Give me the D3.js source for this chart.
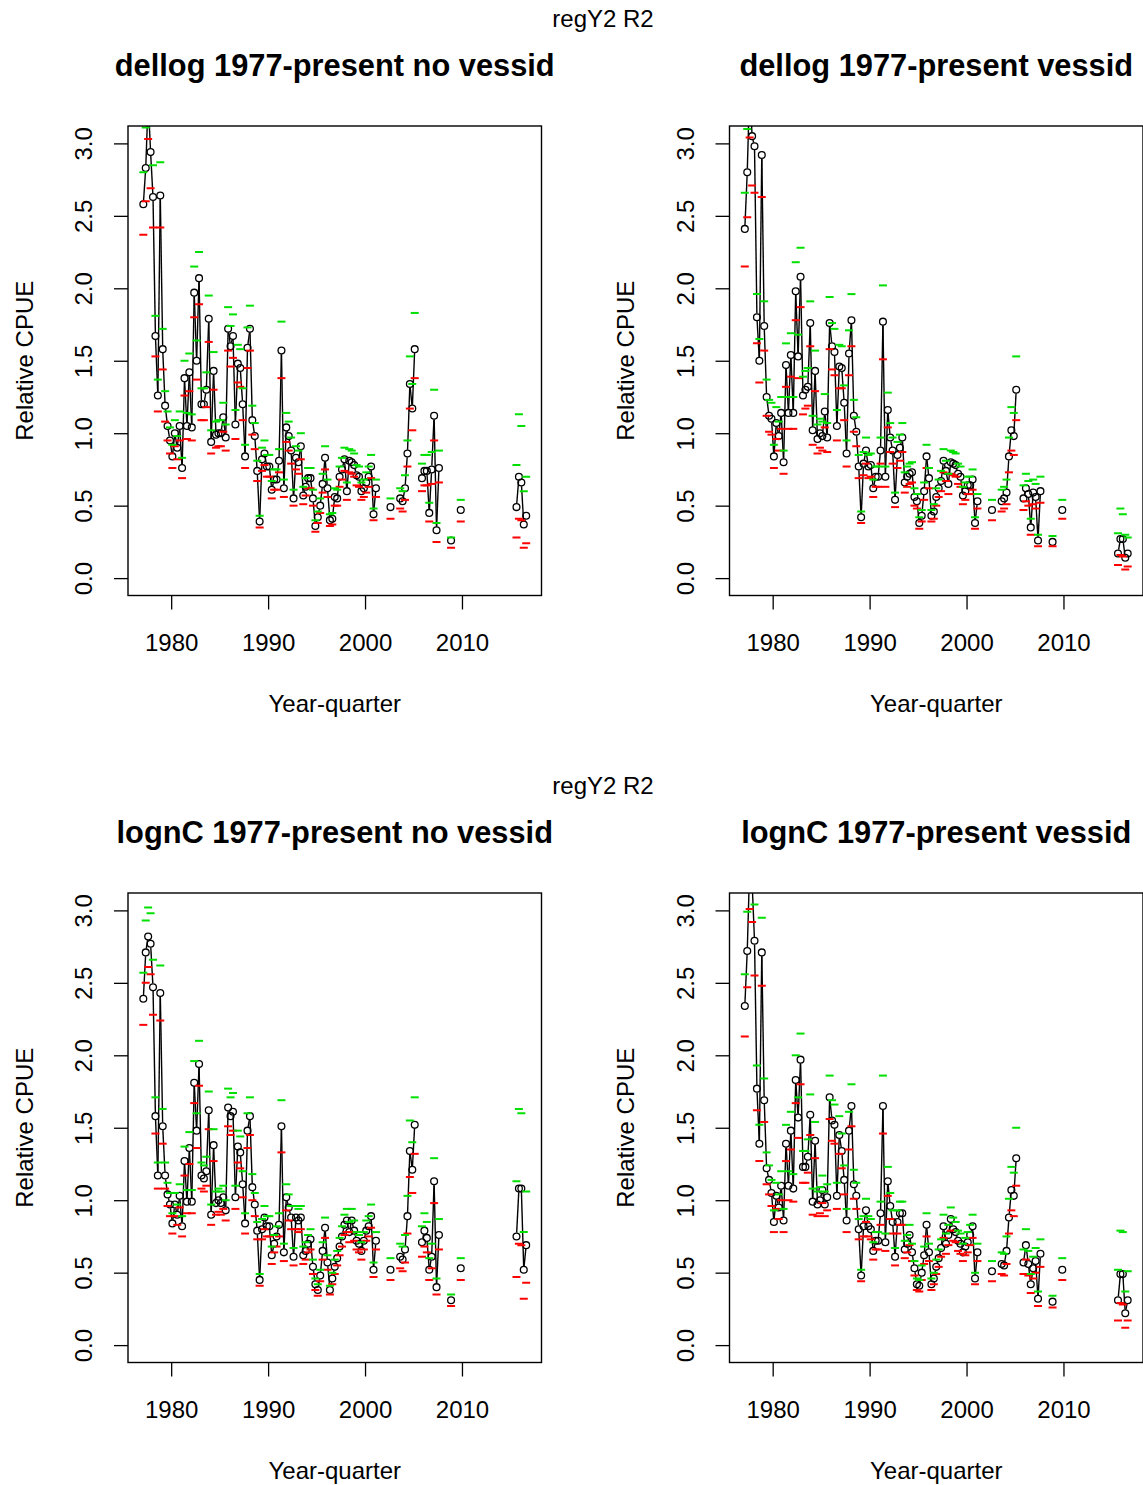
<!DOCTYPE html>
<html>
<head>
<meta charset="utf-8">
<script src="https://cdn.jsdelivr.net/npm/d3@7"></script>
<style>
  body { margin: 0; background: #fff; }
  svg text { font-family: "Liberation Sans", Arial, sans-serif; fill: #000; }
</style>
</head>
<body>
<svg id="chart" width="1143" height="1485"></svg>
<script>
// year-quarter of every estimate (quarters without data are left out)
const yq = [
  1977.125, 1977.375, 1977.625, 1977.875, 1978.125, 1978.375, 1978.625, 1978.875,
  1979.125, 1979.375, 1979.625, 1979.875, 1980.125, 1980.375, 1980.625, 1980.875,
  1981.125, 1981.375, 1981.625, 1981.875, 1982.125, 1982.375, 1982.625, 1982.875,
  1983.125, 1983.375, 1983.625, 1983.875, 1984.125, 1984.375, 1984.625, 1984.875,
  1985.125, 1985.375, 1985.625, 1985.875, 1986.125, 1986.375, 1986.625, 1986.875,
  1987.125, 1987.375, 1987.625, 1987.875, 1988.125, 1988.375, 1988.625, 1988.875,
  1989.125, 1989.375, 1989.625, 1989.875, 1990.125, 1990.375, 1990.625, 1990.875,
  1991.125, 1991.375, 1991.625, 1991.875, 1992.125, 1992.375, 1992.625, 1992.875,
  1993.125, 1993.375, 1993.625, 1993.875, 1994.125, 1994.375, 1994.625, 1994.875,
  1995.125, 1995.375, 1995.625, 1995.875, 1996.125, 1996.375, 1996.625, 1996.875,
  1997.125, 1997.375, 1997.625, 1997.875, 1998.125, 1998.375, 1998.625, 1998.875,
  1999.125, 1999.375, 1999.625, 1999.875, 2000.125, 2000.375, 2000.625, 2000.875,
  2001.125,
  2002.625,
  2003.625, 2003.875, 2004.125, 2004.375, 2004.625, 2004.875, 2005.125,
  2005.875, 2006.125, 2006.375, 2006.625, 2006.875, 2007.125, 2007.375, 2007.625,
  2008.875, 2009.875,
  2015.625, 2015.875, 2016.125, 2016.375, 2016.625
];

// dellog 1977-present no vessid
const dellogNoVess = [
  2.58, 2.83, 3.30, 2.94, 2.63, 1.67, 1.26, 2.64, 1.58, 1.19,
  1.05, 0.95, 0.84, 1.00, 0.90, 1.05, 0.76, 1.38, 1.05, 1.42,
  1.04, 1.97, 1.50, 2.07, 1.20, 1.20, 1.30, 1.79, 0.94, 1.43,
  0.99, 1.00, 1.00, 1.11, 0.97, 1.72, 1.60, 1.67, 1.06, 1.48,
  1.45, 1.20, 0.84, 1.59, 1.72, 1.09, 0.98, 0.74, 0.39, 0.82,
  0.86, 0.77, 0.77, 0.61, 0.68, 0.68, 0.81, 1.57, 0.62, 1.04,
  0.98, 0.88, 0.55, 0.83, 0.80, 0.91, 0.57, 0.63, 0.69, 0.69,
  0.55, 0.36, 0.42, 0.50, 0.65, 0.83, 0.62, 0.40, 0.41, 0.56,
  0.55, 0.70, 0.75, 0.82, 0.60, 0.81, 0.80, 0.78, 0.71, 0.70,
  0.60, 0.62, 0.66, 0.70, 0.77, 0.44, 0.62,
  0.49,
  0.55, 0.53, 0.62, 0.86, 1.34, 1.17, 1.58,
  0.69, 0.74, 0.74, 0.45, 0.75, 1.12, 0.33, 0.76,
  0.26, 0.47,
  0.49, 0.70, 0.66, 0.37, 0.43
];
const dellogNoVessLo = [
  2.37, 2.60, 3.03, 2.69, 2.42, 1.53, 1.15, 2.42, 1.44, 1.08,
  0.95, 0.86, 0.76, 0.91, 0.82, 0.95, 0.69, 1.26, 0.96, 1.29,
  0.95, 1.80, 1.37, 1.89, 1.09, 1.09, 1.18, 1.63, 0.86, 1.30,
  0.90, 0.91, 0.91, 1.01, 0.88, 1.57, 1.46, 1.52, 0.96, 1.35,
  1.32, 1.09, 0.76, 1.45, 1.57, 0.99, 0.89, 0.67, 0.35, 0.74,
  0.78, 0.70, 0.70, 0.55, 0.61, 0.61, 0.73, 1.38, 0.56, 0.94,
  0.88, 0.79, 0.50, 0.75, 0.72, 0.82, 0.51, 0.57, 0.62, 0.62,
  0.50, 0.32, 0.38, 0.45, 0.59, 0.75, 0.56, 0.36, 0.37, 0.50,
  0.50, 0.63, 0.68, 0.74, 0.54, 0.73, 0.72, 0.70, 0.64, 0.63,
  0.54, 0.56, 0.59, 0.63, 0.69, 0.40, 0.56,
  0.41,
  0.48, 0.46, 0.54, 0.77, 1.17, 1.02, 1.38,
  0.60, 0.64, 0.64, 0.39, 0.65, 0.95, 0.25, 0.66,
  0.21, 0.39,
  0.28, 0.41, 0.40, 0.21, 0.24
];
const dellogNoVessHi = [
  2.80, 3.11, 3.60, 3.21, 2.85, 1.81, 1.37, 2.87, 1.72, 1.29,
  1.15, 1.04, 0.92, 1.09, 0.98, 1.15, 0.83, 1.50, 1.14, 1.55,
  1.13, 2.15, 1.64, 2.25, 1.31, 1.31, 1.42, 1.95, 1.02, 1.56,
  1.08, 1.09, 1.09, 1.21, 1.06, 1.87, 1.74, 1.82, 1.16, 1.61,
  1.58, 1.31, 0.92, 1.73, 1.88, 1.19, 1.07, 0.81, 0.43, 0.90,
  0.95, 0.85, 0.85, 0.67, 0.75, 0.75, 0.89, 1.77, 0.68, 1.14,
  1.08, 0.97, 0.61, 0.91, 0.88, 1.00, 0.63, 0.69, 0.76, 0.76,
  0.61, 0.40, 0.46, 0.55, 0.72, 0.91, 0.68, 0.44, 0.45, 0.62,
  0.61, 0.77, 0.83, 0.90, 0.66, 0.89, 0.88, 0.86, 0.78, 0.77,
  0.66, 0.68, 0.73, 0.77, 0.85, 0.48, 0.68,
  0.55,
  0.62, 0.60, 0.71, 0.95, 1.53, 1.34, 1.83,
  0.79, 0.85, 0.85, 0.52, 0.87, 1.30, 0.38, 0.88,
  0.28, 0.54,
  0.78, 1.13, 1.05, 0.60, 0.70
];

// dellog 1977-present vessid
const dellogVess = [
  2.41, 2.80, 3.40, 3.05, 2.98, 1.80, 1.50, 2.92, 1.74, 1.25,
  1.12, 1.10, 0.84, 1.07, 0.98, 1.14, 0.80, 1.47, 1.14, 1.54,
  1.14, 1.98, 1.53, 2.08, 1.26, 1.30, 1.32, 1.76, 1.02, 1.43,
  0.96, 1.00, 0.98, 1.15, 0.97, 1.76, 1.60, 1.56, 1.05, 1.46,
  1.45, 1.21, 0.86, 1.55, 1.78, 1.12, 1.01, 0.77, 0.42, 0.79,
  0.88, 0.77, 0.78, 0.62, 0.70, 0.70, 0.88, 1.77, 0.70, 1.16,
  0.97, 0.88, 0.54, 0.85, 0.90, 0.97, 0.66, 0.70, 0.72, 0.73,
  0.56, 0.53, 0.38, 0.43, 0.60, 0.84, 0.69, 0.43, 0.46, 0.56,
  0.62, 0.67, 0.81, 0.74, 0.65, 0.80, 0.79, 0.78, 0.72, 0.70,
  0.57, 0.60, 0.64, 0.64, 0.68, 0.38, 0.53,
  0.47,
  0.53, 0.55, 0.59, 0.84, 1.02, 0.98, 1.30,
  0.55, 0.62, 0.58, 0.35, 0.59, 0.56, 0.26, 0.60,
  0.25, 0.47,
  0.17, 0.27, 0.27, 0.14, 0.17
];
const dellogVessLo = [
  2.15, 2.49, 3.04, 2.71, 2.66, 1.62, 1.35, 2.63, 1.57, 1.12,
  1.01, 0.99, 0.76, 0.96, 0.88, 1.03, 0.72, 1.32, 1.03, 1.39,
  1.03, 1.78, 1.38, 1.87, 1.13, 1.17, 1.19, 1.60, 0.92, 1.29,
  0.86, 0.90, 0.88, 1.04, 0.87, 1.58, 1.44, 1.40, 0.95, 1.31,
  1.31, 1.09, 0.77, 1.40, 1.60, 1.01, 0.91, 0.69, 0.38, 0.71,
  0.79, 0.69, 0.70, 0.56, 0.63, 0.63, 0.79, 1.51, 0.63, 1.04,
  0.87, 0.79, 0.49, 0.76, 0.81, 0.87, 0.59, 0.63, 0.65, 0.66,
  0.50, 0.48, 0.34, 0.39, 0.54, 0.76, 0.62, 0.39, 0.41, 0.50,
  0.56, 0.60, 0.73, 0.67, 0.58, 0.72, 0.71, 0.70, 0.65, 0.63,
  0.51, 0.54, 0.58, 0.58, 0.61, 0.34, 0.48,
  0.40,
  0.46, 0.48, 0.51, 0.73, 0.88, 0.85, 1.09,
  0.47, 0.53, 0.50, 0.30, 0.51, 0.48, 0.22, 0.52,
  0.22, 0.41,
  0.09, 0.16, 0.15, 0.06, 0.08
];
const dellogVessHi = [
  2.66, 3.10, 3.76, 3.40, 3.30, 1.96, 1.65, 3.20, 1.91, 1.37,
  1.23, 1.21, 0.92, 1.18, 1.08, 1.25, 0.88, 1.62, 1.25, 1.69,
  1.25, 2.18, 1.68, 2.28, 1.39, 1.43, 1.45, 1.91, 1.12, 1.57,
  1.06, 1.10, 1.08, 1.27, 1.07, 1.94, 1.76, 1.72, 1.16, 1.61,
  1.60, 1.33, 0.95, 1.71, 1.96, 1.23, 1.11, 0.85, 0.46, 0.87,
  0.97, 0.85, 0.86, 0.68, 0.77, 0.77, 0.97, 2.02, 0.77, 1.28,
  1.07, 0.97, 0.59, 0.94, 0.99, 1.07, 0.73, 0.77, 0.79, 0.80,
  0.62, 0.58, 0.42, 0.47, 0.66, 0.92, 0.76, 0.47, 0.51, 0.62,
  0.68, 0.74, 0.89, 0.81, 0.72, 0.88, 0.87, 0.86, 0.79, 0.77,
  0.63, 0.66, 0.70, 0.70, 0.75, 0.42, 0.58,
  0.54,
  0.61, 0.63, 0.68, 0.97, 1.18, 1.14, 1.53,
  0.64, 0.72, 0.67, 0.41, 0.68, 0.65, 0.30, 0.70,
  0.29, 0.54,
  0.31, 0.48, 0.44, 0.30, 0.28
];

// lognC 1977-present no vessid
const lognCNoVess = [
  2.39, 2.71, 2.82, 2.77, 2.47, 1.58, 1.17, 2.43, 1.51, 1.17,
  1.04, 0.97, 0.84, 0.97, 0.90, 1.03, 0.82, 1.27, 0.99, 1.36,
  0.99, 1.81, 1.48, 1.94, 1.17, 1.15, 1.20, 1.62, 0.90, 1.38,
  0.98, 1.00, 0.98, 1.02, 0.93, 1.64, 1.58, 1.61, 1.02, 1.37,
  1.33, 1.11, 0.84, 1.48, 1.58, 1.09, 0.97, 0.79, 0.45, 0.80,
  0.88, 0.82, 0.82, 0.62, 0.70, 0.75, 0.83, 1.51, 0.64, 1.02,
  0.95, 0.88, 0.61, 0.88, 0.86, 0.88, 0.62, 0.65, 0.70, 0.73,
  0.54, 0.42, 0.38, 0.48, 0.65, 0.81, 0.57, 0.38, 0.46, 0.54,
  0.60, 0.68, 0.75, 0.83, 0.86, 0.78, 0.86, 0.79, 0.72, 0.70,
  0.65, 0.72, 0.79, 0.82, 0.89, 0.52, 0.72,
  0.52,
  0.61, 0.59, 0.66, 0.89, 1.34, 1.21, 1.52,
  0.71, 0.79, 0.74, 0.52, 0.61, 1.13, 0.40, 0.76,
  0.31, 0.53,
  0.75, 1.08, 1.08, 0.52, 0.69
];
const lognCNoVessLo = [
  2.21, 2.50, 2.61, 2.56, 2.28, 1.46, 1.08, 2.24, 1.39, 1.08,
  0.96, 0.89, 0.77, 0.89, 0.83, 0.95, 0.75, 1.17, 0.91, 1.25,
  0.91, 1.67, 1.36, 1.79, 1.08, 1.06, 1.10, 1.49, 0.83, 1.27,
  0.90, 0.92, 0.90, 0.94, 0.86, 1.51, 1.45, 1.48, 0.94, 1.26,
  1.22, 1.02, 0.77, 1.36, 1.45, 1.00, 0.89, 0.73, 0.41, 0.73,
  0.80, 0.75, 0.75, 0.56, 0.64, 0.68, 0.75, 1.33, 0.58, 0.93,
  0.86, 0.80, 0.55, 0.80, 0.78, 0.80, 0.56, 0.59, 0.64, 0.66,
  0.49, 0.38, 0.34, 0.44, 0.59, 0.74, 0.52, 0.35, 0.42, 0.49,
  0.55, 0.62, 0.68, 0.76, 0.78, 0.71, 0.78, 0.72, 0.66, 0.64,
  0.59, 0.66, 0.72, 0.75, 0.81, 0.47, 0.66,
  0.45,
  0.53, 0.51, 0.57, 0.77, 1.16, 1.05, 1.32,
  0.61, 0.68, 0.64, 0.45, 0.53, 0.98, 0.35, 0.66,
  0.27, 0.45,
  0.47, 0.70, 0.69, 0.32, 0.43
];
const lognCNoVessHi = [
  2.57, 2.93, 3.02, 2.98, 2.66, 1.71, 1.26, 2.62, 1.63, 1.26,
  1.12, 1.05, 0.91, 1.05, 0.97, 1.11, 0.89, 1.37, 1.07, 1.47,
  1.07, 1.96, 1.60, 2.10, 1.26, 1.24, 1.30, 1.75, 0.97, 1.49,
  1.06, 1.08, 1.06, 1.10, 1.00, 1.77, 1.71, 1.74, 1.10, 1.48,
  1.44, 1.20, 0.91, 1.60, 1.71, 1.18, 1.05, 0.85, 0.49, 0.87,
  0.96, 0.89, 0.89, 0.68, 0.76, 0.82, 0.91, 1.69, 0.70, 1.11,
  1.04, 0.96, 0.67, 0.96, 0.94, 0.96, 0.68, 0.71, 0.76, 0.80,
  0.59, 0.46, 0.42, 0.52, 0.71, 0.88, 0.62, 0.41, 0.50, 0.59,
  0.65, 0.74, 0.82, 0.90, 0.94, 0.85, 0.94, 0.86, 0.78, 0.76,
  0.71, 0.78, 0.86, 0.89, 0.97, 0.57, 0.78,
  0.60,
  0.70, 0.68, 0.76, 1.03, 1.55, 1.40, 1.71,
  0.82, 0.91, 0.85, 0.60, 0.70, 1.29, 0.46, 0.87,
  0.35, 0.60,
  1.13, 1.63, 1.60, 0.78, 1.06
];

// lognC 1977-present vessid
const lognCVess = [
  2.34, 2.72, 3.30, 3.20, 2.79, 1.77, 1.39, 2.71, 1.69, 1.22,
  1.14, 1.05, 0.85, 1.03, 0.95, 1.10, 0.86, 1.39, 1.10, 1.48,
  1.08, 1.83, 1.57, 1.97, 1.23, 1.23, 1.30, 1.59, 0.99, 1.41,
  0.97, 1.00, 1.07, 0.97, 1.02, 1.71, 1.55, 1.52, 1.03, 1.45,
  1.34, 1.14, 0.86, 1.48, 1.65, 1.11, 1.03, 0.80, 0.48, 0.82,
  0.93, 0.82, 0.80, 0.65, 0.72, 0.72, 0.91, 1.65, 0.71, 1.13,
  0.96, 0.85, 0.61, 0.85, 0.91, 0.91, 0.66, 0.70, 0.76, 0.64,
  0.53, 0.42, 0.41, 0.50, 0.62, 0.83, 0.64, 0.42, 0.46, 0.54,
  0.60, 0.67, 0.82, 0.70, 0.76, 0.87, 0.80, 0.78, 0.72, 0.70,
  0.64, 0.68, 0.71, 0.76, 0.82, 0.46, 0.64,
  0.51,
  0.56, 0.55, 0.65, 0.88, 1.07, 1.03, 1.29,
  0.57, 0.69, 0.56, 0.42, 0.53, 0.58, 0.32, 0.63,
  0.30, 0.52,
  0.31, 0.49, 0.49, 0.22, 0.31
];
const lognCVessLo = [
  2.13, 2.47, 3.01, 2.92, 2.55, 1.62, 1.27, 2.48, 1.54, 1.11,
  1.04, 0.96, 0.78, 0.94, 0.87, 1.00, 0.78, 1.27, 1.00, 1.35,
  0.99, 1.67, 1.43, 1.80, 1.12, 1.12, 1.19, 1.45, 0.90, 1.29,
  0.89, 0.91, 0.98, 0.89, 0.93, 1.56, 1.41, 1.39, 0.94, 1.32,
  1.22, 1.04, 0.78, 1.35, 1.51, 1.01, 0.94, 0.73, 0.44, 0.75,
  0.85, 0.75, 0.73, 0.59, 0.66, 0.66, 0.83, 1.46, 0.65, 1.03,
  0.87, 0.77, 0.55, 0.77, 0.83, 0.83, 0.60, 0.64, 0.69, 0.58,
  0.48, 0.38, 0.37, 0.45, 0.56, 0.75, 0.58, 0.38, 0.42, 0.49,
  0.54, 0.61, 0.74, 0.63, 0.69, 0.79, 0.72, 0.71, 0.65, 0.63,
  0.58, 0.62, 0.64, 0.69, 0.74, 0.42, 0.58,
  0.44,
  0.49, 0.48, 0.56, 0.77, 0.93, 0.89, 1.10,
  0.49, 0.59, 0.48, 0.36, 0.46, 0.50, 0.27, 0.54,
  0.26, 0.45,
  0.17, 0.29, 0.28, 0.12, 0.17
];
const lognCVessHi = [
  2.56, 2.99, 3.60, 3.49, 3.04, 1.93, 1.52, 2.95, 1.84, 1.33,
  1.24, 1.14, 0.93, 1.12, 1.04, 1.20, 0.94, 1.52, 1.20, 1.61,
  1.18, 2.00, 1.71, 2.15, 1.34, 1.34, 1.42, 1.73, 1.08, 1.54,
  1.06, 1.09, 1.17, 1.06, 1.11, 1.86, 1.69, 1.66, 1.12, 1.58,
  1.46, 1.24, 0.94, 1.61, 1.80, 1.21, 1.12, 0.87, 0.52, 0.89,
  1.01, 0.89, 0.87, 0.71, 0.78, 0.78, 0.99, 1.86, 0.77, 1.23,
  1.05, 0.93, 0.67, 0.93, 0.99, 0.99, 0.72, 0.76, 0.83, 0.70,
  0.58, 0.46, 0.45, 0.55, 0.68, 0.91, 0.70, 0.46, 0.50, 0.59,
  0.66, 0.73, 0.90, 0.77, 0.83, 0.95, 0.88, 0.85, 0.79, 0.77,
  0.70, 0.74, 0.78, 0.83, 0.90, 0.50, 0.70,
  0.58,
  0.64, 0.63, 0.75, 1.01, 1.23, 1.19, 1.50,
  0.66, 0.80, 0.65, 0.49, 0.61, 0.67, 0.37, 0.73,
  0.34, 0.60,
  0.52, 0.79, 0.78, 0.37, 0.51
];

const pageTitle = "regY2 R2";
const xTicks = [1980, 1990, 2000, 2010];
const yTicks = [0, 0.5, 1, 1.5, 2, 2.5, 3];
const yLimits = [0, 3];

const svg = d3.select("#chart");
const W = 413.5, H = 469.5;
const gap = 3.8;   // type="b" gap round each point

const panels = [
  { title: "dellog 1977-present no vessid", v: dellogNoVess, lo: dellogNoVessLo, hi: dellogNoVessHi, left: 128, top: 126 },
  { title: "dellog 1977-present vessid",    v: dellogVess,   lo: dellogVessLo,   hi: dellogVessHi,   left: 729.5, top: 126 },
  { title: "lognC 1977-present no vessid",  v: lognCNoVess,  lo: lognCNoVessLo,  hi: lognCNoVessHi,  left: 128, top: 893 },
  { title: "lognC 1977-present vessid",     v: lognCVess,    lo: lognCVessLo,    hi: lognCVessHi,    left: 729.5, top: 893 }
];

// outer titles, one per row
[126, 893].forEach(t => {
  svg.append("text")
    .attr("x", 603).attr("y", t - 99)
    .attr("text-anchor", "middle")
    .style("font-size", "24px")
    .text(pageTitle);
});

// R style axis limits: 4% extension each side
const xMin = d3.min(yq), xMax = d3.max(yq);
const xPad = (xMax - xMin) * 0.04;
const yPad = (yLimits[1] - yLimits[0]) * 0.04;

panels.forEach((p, k) => {
  const g = svg.append("g").attr("transform", `translate(${p.left},${p.top})`);

  const x = d3.scaleLinear().domain([xMin - xPad, xMax + xPad]).range([0, W]);
  const y = d3.scaleLinear().domain([yLimits[0] - yPad, yLimits[1] + yPad]).range([H, 0]);

  const clipId = "clip" + k;
  g.append("clipPath").attr("id", clipId)
    .append("rect").attr("width", W).attr("height", H);
  const plot = g.append("g").attr("clip-path", `url(#${clipId})`);

  const pts = yq.map((t, i) => ({ t: t, v: p.v[i], lo: p.lo[i], hi: p.hi[i] }));

  // line segments between consecutive quarters, with gaps at the points
  const segs = [];
  for (let i = 1; i < pts.length; i++) {
    if (pts[i].t - pts[i - 1].t > 0.3) continue;
    const x1 = x(pts[i - 1].t), y1 = y(pts[i - 1].v);
    const x2 = x(pts[i].t), y2 = y(pts[i].v);
    const d = Math.hypot(x2 - x1, y2 - y1);
    if (d <= 2 * gap) continue;
    const ux = (x2 - x1) / d, uy = (y2 - y1) / d;
    segs.push([x1 + ux * gap, y1 + uy * gap, x2 - ux * gap, y2 - uy * gap]);
  }

  plot.append("g")
    .selectAll("line")
    .data(segs)
    .join("line")
    .attr("x1", d => d[0]).attr("y1", d => d[1])
    .attr("x2", d => d[2]).attr("y2", d => d[3])
    .attr("stroke", "#000")
    .attr("stroke-width", 1.4);

  plot.append("g")
    .selectAll("circle")
    .data(pts)
    .join("circle")
    .attr("cx", d => x(d.t))
    .attr("cy", d => y(d.v))
    .attr("r", 3.4)
    .attr("fill", "none")
    .attr("stroke", "#000")
    .attr("stroke-width", 1.3);

  // lower / upper bounds as small dashes
  plot.append("g")
    .selectAll("line")
    .data(pts)
    .join("line")
    .attr("x1", d => x(d.t) - 4).attr("x2", d => x(d.t) + 4)
    .attr("y1", d => y(d.lo)).attr("y2", d => y(d.lo))
    .attr("stroke", "#ff0000")
    .attr("stroke-width", 2);

  plot.append("g")
    .selectAll("line")
    .data(pts)
    .join("line")
    .attr("x1", d => x(d.t) - 4).attr("x2", d => x(d.t) + 4)
    .attr("y1", d => y(d.hi)).attr("y2", d => y(d.hi))
    .attr("stroke", "#00e000")
    .attr("stroke-width", 2);

  // axes
  const xAxis = g.append("g")
    .attr("transform", `translate(0,${H})`)
    .call(d3.axisBottom(x).tickValues(xTicks).tickSize(14).tickPadding(24).tickFormat(d3.format("d")));
  xAxis.attr("font-size", null).attr("font-family", null);
  xAxis.select(".domain").remove();
  xAxis.selectAll("line").attr("stroke", "#000").attr("stroke-width", 1.3);
  xAxis.selectAll("text").style("font-size", "24px");

  const yAxis = g.append("g")
    .call(d3.axisLeft(y).tickValues(yTicks).tickSize(14).tickFormat(d3.format(".1f")));
  yAxis.attr("font-size", null).attr("font-family", null);
  yAxis.select(".domain").remove();
  yAxis.selectAll("line").attr("stroke", "#000").attr("stroke-width", 1.3);
  yAxis.selectAll("text")
    .attr("x", null).attr("dy", null)
    .attr("text-anchor", "middle")
    .attr("transform", "translate(-36,0) rotate(-90)")
    .style("font-size", "24px");

  // box
  g.append("rect")
    .attr("width", W).attr("height", H)
    .attr("fill", "none")
    .attr("stroke", "#000")
    .attr("stroke-width", 1.4);

  g.append("text")
    .attr("x", W / 2).attr("y", -50)
    .attr("text-anchor", "middle")
    .style("font-size", "30.8px")
    .style("font-weight", "bold")
    .text(p.title);

  g.append("text")
    .attr("transform", `translate(-95.5,${H / 2}) rotate(-90)`)
    .attr("text-anchor", "middle")
    .style("font-size", "24px")
    .text("Relative CPUE");

  g.append("text")
    .attr("x", W / 2).attr("y", H + 116)
    .attr("text-anchor", "middle")
    .style("font-size", "24px")
    .text("Year-quarter");
});
</script>
</body>
</html>
